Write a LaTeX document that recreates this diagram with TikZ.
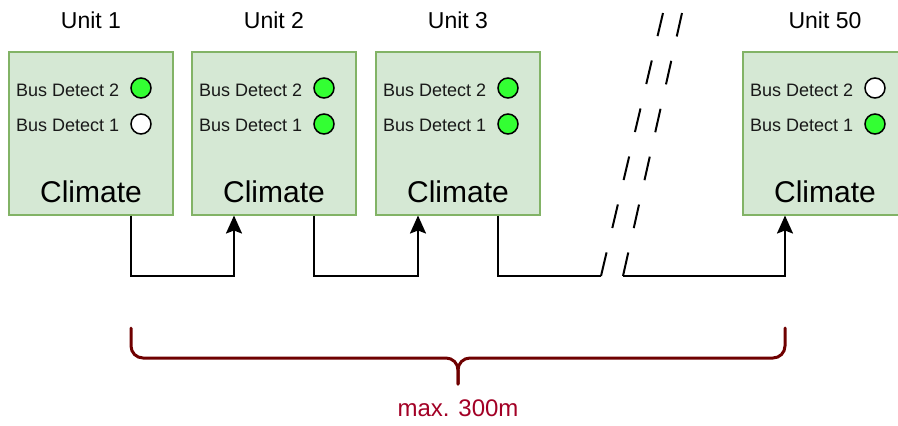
\documentclass[tikz,border=0pt]{standalone}
\usepackage{fontspec}
\setmainfont{Liberation Sans}
\usetikzlibrary{arrows.meta}
\definecolor{boxfill}{HTML}{D5E8D4}
\definecolor{boxline}{HTML}{82B366}
\definecolor{ledon}{HTML}{33FF33}
\definecolor{bracecol}{HTML}{6F0000}
\definecolor{labelcol}{HTML}{A20025}
\tikzset{
  unitbox/.style={draw=boxline, fill=boxfill, line width=2pt,
    minimum width=164pt, minimum height=163pt, inner sep=0pt},
  unitlabel/.style={font=\fontsize{23}{26}\selectfont, anchor=base, inner sep=0pt},
  climatelabel/.style={font=\fontsize{30}{34}\selectfont, anchor=base, inner sep=0pt},
  detlabel/.style={font=\fontsize{18}{20}\selectfont, anchor=base west, inner sep=0pt, text=black!90},
  led/.style={circle, draw=black, line width=1.5pt, minimum size=20pt, inner sep=0pt},
  ledgreen/.style={led, fill=ledon},
  ledwhite/.style={led, fill=white},
  wire/.style={draw=black, line width=2pt},
  arrowwire/.style={wire, -{Stealth[length=18pt, width=16pt, inset=3pt]}},
  breakline/.style={draw=black, line width=2pt},
  bracepath/.style={draw=bracecol, line width=3pt, line cap=round, line join=round, rounded corners=12pt},
}
\begin{document}
\begin{tikzpicture}[x=1pt, y=-1pt]
  \useasboundingbox (0,0) rectangle (898,426);
  \clip (0,0) rectangle (898,426);

  % one box per unit, with its title, bus detect rows and LEDs
  \foreach \n/\cx/\title/\ledtwo/\ledone in
      {u1/91/Unit 1/ledgreen/ledwhite,
       u2/274/Unit 2/ledgreen/ledgreen,
       u3/458/Unit 3/ledgreen/ledgreen,
       u4/825/Unit 50/ledwhite/ledgreen}{
    \node[unitbox] (\n) at (\cx,133) {};
    \node[unitlabel] (\n-title) at (\cx,28) {\title};
    \node[climatelabel] (\n-climate) at (\cx,202) {Climate};
    \node[detlabel] (\n-d2) at ([xshift=8pt]\n.west |- 0,96) {Bus Detect 2};
    \node[detlabel] (\n-d1) at ([xshift=8pt]\n.west |- 0,131) {Bus Detect 1};
    \node[\ledtwo] (\n-led2) at ([xshift=133pt]\n.west |- 0,88) {};
    \node[\ledone] (\n-led1) at ([xshift=133pt]\n.west |- 0,124) {};
    % bus output (right) and input (left) points under each box
    \coordinate (\n-out) at ([xshift=40pt]\n.south);
    \coordinate (\n-in) at ([xshift=-40pt]\n.south);
  }

  % break in the bus run
  \coordinate (bl) at (601,276);
  \coordinate (br) at (623,276);
  \coordinate (tl) at (663,13);
  \coordinate (tr) at (682,13);

  % bus connections between neighbouring units
  \draw[arrowwire] (u1-out) -- (u1-out |- bl) -| (u2-in);
  \draw[arrowwire] (u2-out) -- (u2-out |- bl) -| (u3-in);

  % interrupted run towards the last unit
  \draw[wire] (u3-out) |- (bl);
  \draw[arrowwire] (br) -| (u4-in);
  \draw[breakline, dash pattern=on 24.2pt off 25.1pt] (bl) -- (tl);
  \draw[breakline, dash pattern=on 24.1pt off 25.0pt] (br) -- (tr);

  % brace spanning the whole bus
  \coordinate (bra) at (131,328);
  \coordinate (brb) at (785,328);
  \coordinate (brtip) at (458,384);
  \draw[bracepath] (bra) -- (131,358) -- (458,358) -- (brtip);
  \draw[bracepath] (brb) -- (785,358) -- (458,358) -- (brtip);
  \node[font=\fontsize{24}{28}\selectfont, text=labelcol, anchor=base, inner sep=0pt]
    (maxlen) at (458,416) {max. 300m};
\end{tikzpicture}
\end{document}
